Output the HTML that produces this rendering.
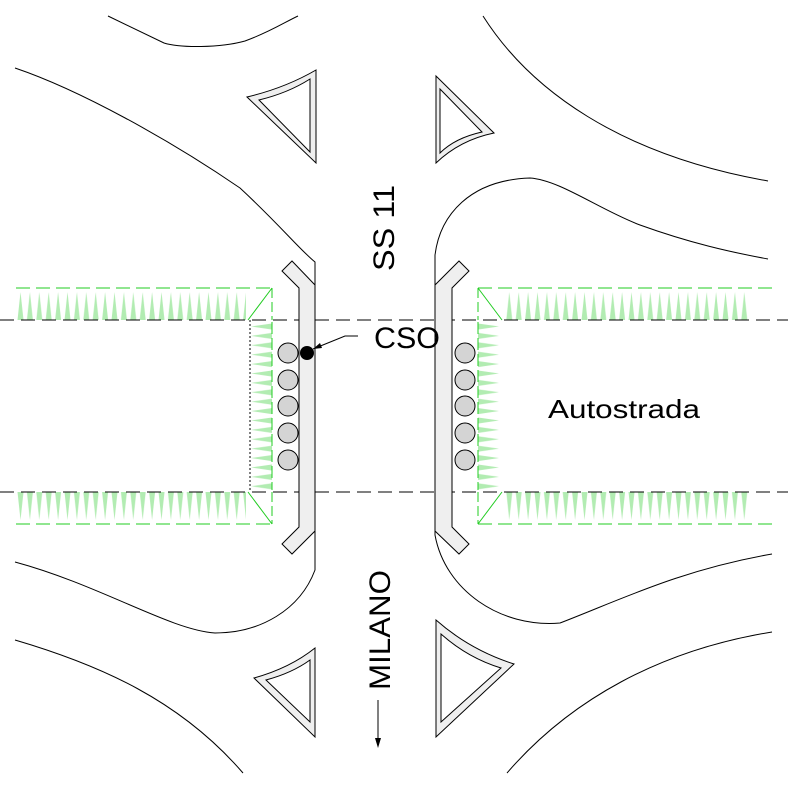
<!DOCTYPE html>
<html><head><style>html,body{margin:0;padding:0;background:#fff}svg{display:block}</style></head><body>
<svg width="788" height="788" viewBox="0 0 788 788" xmlns="http://www.w3.org/2000/svg">
<defs>
<pattern id="wu" x="16" y="290" width="9.4" height="30" patternUnits="userSpaceOnUse"><path d="M1.5,30 L4.5,2 L7.5,30 Z" fill="#b2ecb2"/></pattern>
<pattern id="wd" x="16" y="492" width="9.4" height="30" patternUnits="userSpaceOnUse"><path d="M1.5,0 L4.5,28 L7.5,0 Z" fill="#b2ecb2"/></pattern>
<pattern id="wl" x="250" y="322" width="22" height="9.4" patternUnits="userSpaceOnUse"><path d="M22,1.5 L1,4.5 L22,7.5 Z" fill="#b2ecb2"/></pattern>
<pattern id="wr" x="478" y="322" width="22" height="9.4" patternUnits="userSpaceOnUse"><path d="M0,1.5 L21,4.5 L0,7.5 Z" fill="#b2ecb2"/></pattern>
</defs>
<g>
<rect x="16" y="290" width="230" height="30" fill="url(#wu)"/>
<rect x="506" y="290" width="244" height="30" fill="url(#wu)"/>
<rect x="16" y="492" width="230" height="30" fill="url(#wd)"/>
<rect x="506" y="492" width="244" height="30" fill="url(#wd)"/>
<rect x="250" y="322" width="22" height="168" fill="url(#wl)"/>
<rect x="478" y="322" width="22" height="168" fill="url(#wr)"/>
</g>
<g stroke="#22cc22" stroke-width="1" fill="none">
<path d="M16,288 H272" stroke-dasharray="14,6"/>
<path d="M478,288 H772" stroke-dasharray="14,6"/>
<path d="M16,524 H272" stroke-dasharray="14,6"/>
<path d="M478,524 H772" stroke-dasharray="14,6"/>
<path d="M272,288 V320 M272,492 V524 M478,288 V320 M478,492 V524" stroke-dasharray="10,4"/>
<path d="M272,288 L248,320 M248,492 L272,524 M478,288 L502,320 M502,492 L478,524"/>
<path d="M272,322 V490 M478,322 V490" stroke-dasharray="12,4"/>
</g>
<g stroke="#000" stroke-width="1" fill="none">
<path d="M0,320 H788 M0,492 H788" stroke-dasharray="14,7"/>
<path d="M250,320 V492" stroke-dasharray="2,2"/>
<path d="M108,16 L164,43 C180,48 220,48 245,41 C270,32 285,22 298,16"/>
<path d="M15,68 C80,90 170,140 240,188 C280,225 300,250 315,262 L315,570 C300,610 260,633 215,633 C170,630 100,585 15,562"/>
<path d="M15,640 C100,665 180,700 243,773"/>
<path d="M483,16 C530,90 620,155 768,181"/>
<path d="M768,259 C730,252 690,243 640,225 C600,210 560,180 530,178 C470,180 440,215 435,255 L435,535 C445,590 500,628 560,623 C620,600 680,570 772,554"/>
<path d="M507,773 C570,700 660,650 772,632"/>
</g>
<g stroke="#000" stroke-width="1" fill="#efefef">
<path d="M315,285 L292,261 L282,271 L299,288 L299,527 L282,544 L292,554 L315,531 Z"/>
<path d="M435,285 L459,261 L469,271 L452,288 L452,527 L469,544 L459,554 L435,531 Z"/>
<path d="M247,97 Q285,88 316,70 L316,163 Z"/>
<path d="M436,76 L494,133 Q460,140 436,163 Z"/>
<path d="M254,678 Q290,668 315,648 L315,737 Z"/>
<path d="M436,620 Q470,650 514,664 L436,737 Z"/>
</g>
<g stroke="#000" stroke-width="1" fill="#fff">
<path d="M259,100 Q288,93 310,79 L310,152 Z"/>
<path d="M440,89 L482,132 Q455,138 440,153 Z"/>
<path d="M266,680 Q292,673 310,660 L310,722 Z"/>
<path d="M441,634 Q468,658 501,668 L441,722 Z"/>
</g>
<g stroke="#000" stroke-width="1" fill="#d4d4d4">
<circle cx="288" cy="353" r="10"/><circle cx="288" cy="380" r="10"/><circle cx="288" cy="406" r="10"/><circle cx="288" cy="433" r="10"/><circle cx="288" cy="460" r="10"/>
<circle cx="465" cy="353" r="10"/><circle cx="465" cy="380" r="10"/><circle cx="465" cy="406" r="10"/><circle cx="465" cy="433" r="10"/><circle cx="465" cy="460" r="10"/>
</g>
<circle cx="307" cy="353" r="7" fill="#000"/>
<path d="M313,349 L345,336 H358" stroke="#000" fill="none"/>
<path d="M313,349 L320,343 L322,348 Z" fill="#000"/>
<path d="M378,700 V742" stroke="#000"/>
<path d="M375,738 L378,748 L381,738 Z" fill="#000"/>
<g font-family="Liberation Sans, sans-serif" fill="#000">
<text x="374" y="348" font-size="30" textLength="66" lengthAdjust="spacingAndGlyphs">CSO</text>
<text x="548" y="418" font-size="26" textLength="152" lengthAdjust="spacingAndGlyphs">Autostrada</text>
<text transform="translate(394,271) rotate(-90)" font-size="30" textLength="86" lengthAdjust="spacingAndGlyphs">SS 11</text>
<text transform="translate(390,690) rotate(-90)" font-size="30" textLength="120" lengthAdjust="spacingAndGlyphs">MILANO</text>
</g>
</svg>
</body></html>
